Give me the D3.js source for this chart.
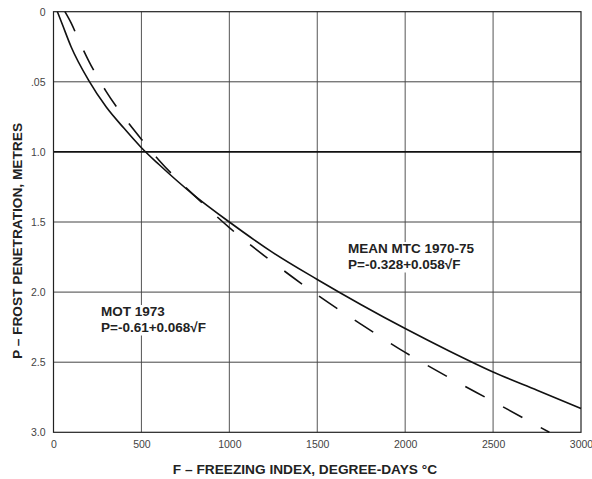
<!DOCTYPE html>
<meta charset="utf-8">
<script src="https://d3js.org/d3.v7.min.js"></script>
<style>
  body { margin: 0; background: #fff; }
  text { font-family: "Liberation Sans", Arial, sans-serif; }
</style>
<div id="my_dataviz"></div>
<script>
// values
var xTicks = [0, 500, 1000, 1500, 2000, 2500, 3000];
var yTicks = [0, 0.5, 1.0, 1.5, 2.0, 2.5, 3.0];
var yTickLabels = ["0", ".05", "1.0", "1.5", "2.0", "2.5", "3.0"];

// MEAN MTC 1970-75 (solid)
var mtcF = [22, 50, 100, 200, 300, 400, 500, 600, 800, 1000, 1250, 1500, 1750, 2000, 2250, 2500, 2750, 3000];
var mtcP = [0.0, 0.09, 0.25, 0.49, 0.68, 0.83, 0.97, 1.09, 1.31, 1.50, 1.72, 1.91, 2.09, 2.26, 2.42, 2.57, 2.70, 2.83];

// MOT 1973 (dashed)
var motF = [65, 100, 150, 200, 300, 400, 500, 600, 800, 1000, 1250, 1500, 1750, 2000, 2250, 2500, 2820];
var motP = [0.0, 0.08, 0.22, 0.35, 0.57, 0.75, 0.91, 1.06, 1.31, 1.54, 1.79, 2.02, 2.23, 2.43, 2.61, 2.78, 3.0];

var svg = d3.select("#my_dataviz")
  .append("svg")
    .attr("width", 592)
    .attr("height", 479);

var x = d3.scaleLinear().domain([0, 3000]).range([53.5, 581]);
var y = d3.scaleLinear().domain([0, 3]).range([11.7, 432.3]);

// grid
svg.append("g")
  .selectAll("line")
  .data(xTicks.slice(1, -1))
  .enter()
  .append("line")
    .attr("x1", function(d) { return x(d) })
    .attr("x2", function(d) { return x(d) })
    .attr("y1", y(0))
    .attr("y2", y(3))
    .attr("stroke", "#555")
    .attr("stroke-width", 1);

svg.append("g")
  .selectAll("line")
  .data(yTicks.slice(1, -1))
  .enter()
  .append("line")
    .attr("x1", x(0))
    .attr("x2", x(3000))
    .attr("y1", function(d) { return y(d) })
    .attr("y2", function(d) { return y(d) })
    .attr("stroke", function(d) { return d == 1 ? "#111" : "#444" })
    .attr("stroke-width", function(d) { return d == 1 ? 1.6 : 1 });

// frame
svg.append("rect")
  .attr("x", x(0))
  .attr("y", y(0))
  .attr("width", x(3000) - x(0))
  .attr("height", y(3) - y(0))
  .attr("fill", "none")
  .attr("stroke", "#222")
  .attr("stroke-width", 1.2);

// tick labels
var xAxis = svg.append("g")
  .attr("transform", "translate(0," + y(3) + ")")
  .call(d3.axisBottom(x).tickValues(xTicks).tickSize(0).tickPadding(8)
    .tickFormat(d3.format("d")));
var yAxis = svg.append("g")
  .attr("transform", "translate(" + x(0) + ",0)")
  .call(d3.axisLeft(y).tickValues(yTicks).tickSize(0).tickPadding(8)
    .tickFormat(function(d, i) { return yTickLabels[i] }));
[xAxis, yAxis].forEach(function(a) {
  a.select(".domain").remove();
  a.selectAll("text")
    .attr("fill", "#444")
    .style("font-size", "10.5px")
    .style("font-family", "Liberation Sans, Arial, sans-serif");
});

// annotation boxes (white behind text)
function note(px, py, lines) {
  var g = svg.append("g");
  var rect = g.append("rect").attr("fill", "#fff");
  lines.forEach(function(t, i) {
    g.append("text")
      .attr("x", px)
      .attr("y", py + i * 15.5)
      .attr("fill", "#222")
      .style("font-size", "13.5px")
      .style("font-weight", "bold")
      .text(t);
  });
  var b = g.node().getBBox();
  rect.attr("x", b.x - 2).attr("y", b.y + 1)
    .attr("width", b.width + 4).attr("height", b.height);
}
note(348, 253, ["MEAN MTC 1970-75", "P=-0.328+0.058\u221AF"]);
note(101, 316, ["MOT 1973", "P=-0.61+0.068\u221AF"]);

// curves
var line = d3.line()
  .x(function(d) { return x(d[0]) })
  .y(function(d) { return y(d[1]) })
  .curve(d3.curveMonotoneX);

svg.append("path")
  .datum(d3.zip(mtcF, mtcP))
  .attr("fill", "none")
  .attr("stroke", "#111")
  .attr("stroke-width", 1.6)
  .attr("d", line);

svg.append("path")
  .datum(d3.zip(motF, motP))
  .attr("fill", "none")
  .attr("stroke", "#111")
  .attr("stroke-width", 1.6)
  .attr("stroke-dasharray", "22,21")
  .attr("d", line);

// axis titles
svg.append("text")
  .attr("x", 305)
  .attr("y", 474)
  .attr("text-anchor", "middle")
  .attr("fill", "#222")
  .style("font-size", "13.7px")
  .style("font-weight", "bold")
  .text("F \u2013 FREEZING INDEX, DEGREE-DAYS \u00B0C");

svg.append("text")
  .attr("transform", "translate(22,241) rotate(-90)")
  .attr("text-anchor", "middle")
  .attr("fill", "#222")
  .style("font-size", "13.7px")
  .style("font-weight", "bold")
  .text("P \u2013 FROST PENETRATION, METRES");
</script>
